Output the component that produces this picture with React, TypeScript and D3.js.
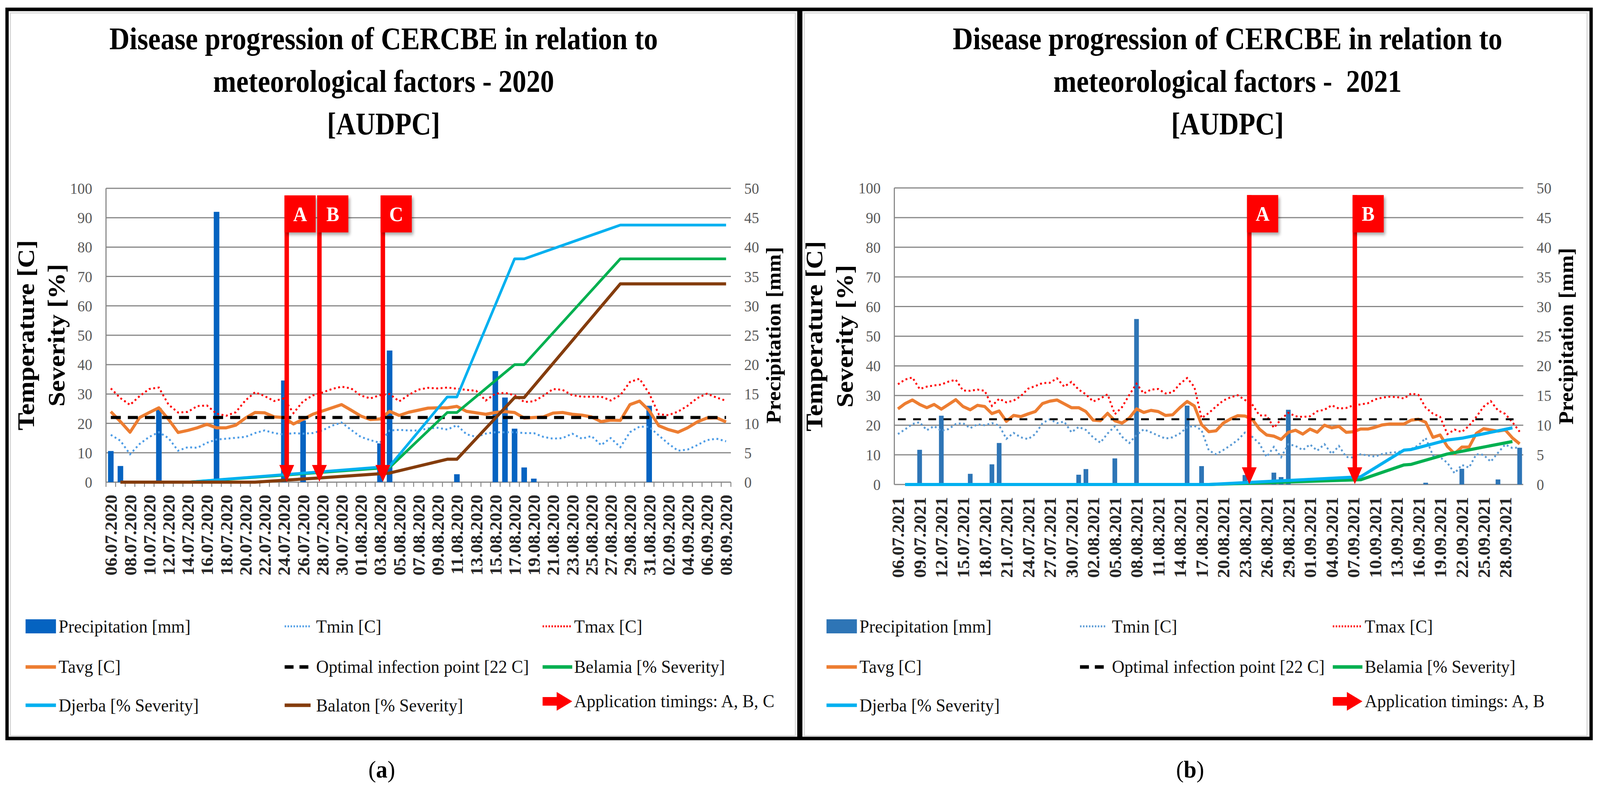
import React from 'react';
import * as d3 from 'd3';

const SERIF = '"Liberation Serif", "Times New Roman", serif';

// ---- 2020 season, daily from 06.07.2020 ----
const tmin2020 = [16.1, 14.1, 9.5, 13.0, 15.4, 17.0, 15.0, 10.7, 11.9, 11.7, 13.4, 14.5, 14.8, 15.1, 15.4, 16.7, 17.6, 16.7, 16.2, 16.7, 16.5, 16.7, 17.6, 19.2, 20.3, 17.8, 15.4, 14.3, 13.4, 17.6, 17.8, 17.6, 17.6, 18.3, 18.5, 17.9, 19.4, 16.3, 15.4, 16.5, 17.0, 17.0, 17.0, 16.7, 16.7, 15.4, 14.8, 15.0, 16.5, 14.8, 15.7, 12.6, 15.0, 11.9, 17.0, 18.9, 18.8, 15.9, 13.1, 10.7, 11.1, 12.6, 14.3, 14.8, 13.9];
const tmax2020 = [31.9, 28.6, 26.3, 29.3, 31.7, 32.2, 26.4, 23.7, 23.9, 25.9, 26.1, 23.3, 22.6, 23.8, 27.8, 30.6, 29.3, 27.6, 28.5, 23.5, 27.5, 29.5, 30.5, 31.7, 32.5, 31.9, 29.5, 28.5, 29.6, 30.0, 27.5, 29.7, 31.5, 32.1, 31.9, 32.2, 31.8, 31.4, 31.1, 27.8, 30.1, 30.4, 29.6, 27.3, 27.5, 29.4, 31.7, 31.4, 29.6, 29.1, 29.1, 29.1, 27.8, 29.6, 34.1, 35.2, 30.2, 23.1, 22.8, 24.0, 26.0, 28.6, 30.1, 28.8, 27.7];
const tavg2020 = [24.0, 20.6, 17.0, 22.0, 23.7, 25.3, 21.4, 16.9, 17.6, 18.5, 19.7, 18.5, 18.5, 19.4, 21.8, 23.7, 23.6, 22.2, 22.0, 19.8, 21.4, 23.1, 24.2, 25.3, 26.4, 24.5, 22.5, 21.3, 21.5, 24.1, 22.7, 23.8, 24.5, 25.2, 25.3, 25.3, 25.8, 24.1, 23.6, 23.1, 23.7, 24.0, 23.7, 21.8, 22.0, 22.2, 23.5, 23.7, 23.1, 22.8, 22.2, 20.6, 21.1, 21.0, 26.4, 27.6, 24.4, 19.2, 17.9, 17.0, 18.5, 20.5, 21.8, 21.9, 20.5];
// rain days only [date, mm]
const precip2020: [string, number][] = [
  ['06.07', 5.3], ['07.07', 2.75], ['11.07', 12.6], ['17.07', 46.0], ['24.07', 17.3], ['26.07', 10.5],
  ['03.08', 6.6], ['04.08', 22.4], ['11.08', 1.35], ['15.08', 18.9], ['16.08', 14.4], ['17.08', 9.1],
  ['18.08', 2.5], ['19.08', 0.6], ['31.08', 13.0],
];
const belamia2020: [string, number][] = [['07.07', 0], ['14.07', 0], ['04.08', 5.0], ['10.08', 23.7], ['11.08', 23.7], ['17.08', 40], ['18.08', 40], ['28.08', 76], ['08.09', 76]];
const djerba2020: [string, number][] = [['07.07', 0], ['14.07', 0], ['04.08', 5.4], ['10.08', 29], ['11.08', 29], ['17.08', 76], ['18.08', 76], ['28.08', 87.5], ['08.09', 87.5]];
const balaton2020: [string, number][] = [['07.07', 0], ['21.07', 0], ['28.07', 1.5], ['04.08', 3.1], ['10.08', 7.8], ['11.08', 7.8], ['17.08', 28.8], ['18.08', 28.8], ['28.08', 67.5], ['08.09', 67.5]];
// application arrows, position in days after 06.07
const arrows2020 = [{ label: 'A', day: 18.3 }, { label: 'B', day: 21.7 }, { label: 'C', day: 28.3 }];

// ---- 2021 season, daily from 06.07.2021 ----
const tmin2021 = [17.0, 18.6, 20.4, 21.0, 18.3, 19.7, 18.1, 18.7, 20.4, 20.7, 19.0, 20.3, 20.0, 20.7, 19.9, 15.4, 17.4, 15.9, 15.3, 17.0, 20.7, 22.0, 20.7, 21.2, 17.6, 19.4, 18.4, 15.9, 14.1, 17.2, 19.6, 16.1, 14.0, 16.7, 18.6, 17.6, 16.5, 15.5, 15.9, 17.2, 19.3, 19.8, 18.3, 11.5, 10.2, 11.6, 13.2, 15.0, 17.5, 16.1, 13.8, 9.3, 12.7, 9.2, 13.6, 13.0, 11.6, 13.5, 11.4, 13.6, 10.3, 13.0, 9.3, 9.1, 10.2, 9.8, 9.4, 10.3, 10.7, 10.9, 11.4, 12.0, 13.2, 15.7, 9.8, 9.2, 7.3, 3.8, 6.6, 5.7, 10.2, 10.0, 7.7, 10.7, 13.5, 12.3, 12.5];
const tmax2021 = [33.8, 35.4, 36.1, 32.2, 33.0, 33.4, 33.7, 34.7, 35.3, 31.7, 31.6, 32.0, 31.6, 26.5, 28.9, 27.7, 28.3, 29.8, 32.3, 33.2, 34.2, 34.3, 35.8, 33.0, 34.6, 32.0, 30.4, 28.0, 29.0, 30.4, 23.7, 26.1, 30.2, 34.0, 30.7, 32.0, 32.2, 30.7, 31.1, 33.9, 35.9, 32.9, 22.4, 24.1, 26.3, 28.3, 29.4, 30.1, 28.5, 27.0, 23.3, 23.3, 19.1, 22.0, 24.2, 23.0, 22.8, 23.0, 24.7, 25.2, 26.7, 25.6, 25.8, 26.7, 27.0, 27.4, 28.7, 29.3, 29.6, 29.5, 29.0, 30.7, 30.2, 25.9, 23.9, 22.8, 17.0, 18.5, 17.7, 19.8, 22.8, 26.2, 28.1, 25.0, 23.8, 21.0, 17.8];
const tavg2021 = [25.5, 27.3, 28.5, 27.0, 25.9, 27.0, 25.4, 27.0, 28.6, 26.3, 25.2, 26.7, 26.3, 23.9, 24.8, 21.3, 23.3, 22.9, 23.8, 24.6, 27.3, 28.1, 28.5, 27.2, 25.9, 25.9, 24.6, 21.7, 21.5, 24.0, 21.5, 20.7, 22.4, 25.5, 24.3, 25.0, 24.6, 23.3, 23.5, 25.9, 28.0, 26.5, 20.2, 17.8, 18.1, 20.7, 22.1, 23.2, 23.1, 22.0, 18.7, 16.7, 16.3, 15.2, 17.6, 18.3, 17.0, 18.7, 17.6, 20.0, 19.1, 19.6, 17.6, 17.8, 18.7, 18.7, 19.3, 20.1, 20.4, 20.4, 20.4, 21.7, 22.0, 21.0, 15.9, 16.7, 12.8, 10.4, 12.6, 12.6, 17.2, 18.8, 18.4, 18.0, 18.4, 15.7, 13.7];
const precip2021: [string, number][] = [
  ['09.07', 5.85], ['12.07', 11.6], ['14.07', 0.2], ['16.07', 1.8], ['19.07', 3.4], ['20.07', 7.0],
  ['26.07', 0.2], ['31.07', 1.65], ['01.08', 2.6], ['05.08', 4.4], ['08.08', 27.9], ['15.08', 13.3],
  ['17.08', 3.1], ['23.08', 1.6], ['27.08', 2.0], ['28.08', 1.25], ['29.08', 12.6], ['17.09', 0.3],
  ['22.09', 2.65], ['27.09', 0.85], ['30.09', 6.2],
];
const belamia2021: [string, number][] = [['07.07', 0], ['18.08', 0], ['08.09', 1.6], ['14.09', 6.6], ['15.09', 6.8], ['20.09', 10.3], ['22.09', 11.2], ['29.09', 14.5]];
const djerba2021: [string, number][] = [['07.07', 0], ['18.08', 0], ['08.09', 2.6], ['14.09', 11.6], ['15.09', 11.8], ['20.09', 15.0], ['22.09', 15.6], ['29.09', 19.1]];
const arrows2021 = [{ label: 'A', day: 48.6 }, { label: 'B', day: 63.2 }];

const OPTIMAL = 22;
const yLeftTicks = d3.range(0, 101, 10);
const yRightTicks = d3.range(0, 51, 5);

type Kind = 'bar' | 'dot' | 'line' | 'dash' | 'arrow';
interface LegendItem { label: string; kind: Kind; color: string; col: number; row: number }

const legend2020: LegendItem[] = [
  { label: 'Precipitation [mm]', kind: 'bar', color: '#0563C1', col: 0, row: 0 },
  { label: 'Tmin [C]', kind: 'dot', color: '#4E9DE6', col: 1, row: 0 },
  { label: 'Tmax [C]', kind: 'dot', color: '#FF0000', col: 2, row: 0 },
  { label: 'Tavg [C]', kind: 'line', color: '#ED7D31', col: 0, row: 1 },
  { label: 'Optimal infection point [22 C]', kind: 'dash', color: '#000', col: 1, row: 1 },
  { label: 'Belamia [% Severity]', kind: 'line', color: '#00B050', col: 2, row: 1 },
  { label: 'Djerba [% Severity]', kind: 'line', color: '#00B0F0', col: 0, row: 2 },
  { label: 'Balaton [% Severity]', kind: 'line', color: '#843C0C', col: 1, row: 2 },
  { label: 'Application timings: A, B, C', kind: 'arrow', color: '#FF0000', col: 2, row: 2 },
];
const legend2021: LegendItem[] = [
  { label: 'Precipitation [mm]', kind: 'bar', color: '#2E75B6', col: 0, row: 0 },
  { label: 'Tmin [C]', kind: 'dot', color: '#5B9BD5', col: 1, row: 0 },
  { label: 'Tmax [C]', kind: 'dot', color: '#FF0000', col: 2, row: 0 },
  { label: 'Tavg [C]', kind: 'line', color: '#ED7D31', col: 0, row: 1 },
  { label: 'Optimal infection point [22 C]', kind: 'dash', color: '#000', col: 1, row: 1 },
  { label: 'Belamia [% Severity]', kind: 'line', color: '#00B050', col: 2, row: 1 },
  { label: 'Djerba [% Severity]', kind: 'line', color: '#00B0F0', col: 0, row: 2 },
  { label: 'Application timings: A, B', kind: 'arrow', color: '#FF0000', col: 2, row: 2 },
];

const parse = d3.timeParse('%d.%m.%Y');
const fmt = d3.timeFormat('%d.%m.%Y');

interface PanelProps {
  year: number;
  nDays: number;
  labelEvery: number;
  tmin: number[];
  tmax: number[];
  tavg: number[];
  precip: [string, number][];
  severity: { color: string; width: number; pts: [string, number][] }[];
  arrows: { label: string; day: number }[];
  geo: { left: number; right: number; top: number; bottom: number };
  barColor: string;
  barPad: number;
  tminColor: string;
  optWidth: number;
  optDash: string;
  xTicks: boolean;
  title: string[];
  titleX: number;
  titleW: number[];
  legend: LegendItem[];
  legendCols: { sx: number; sw: number; tx: number }[];
  caption: string;
  captionX: number;
}

const legendRows = [1603, 1707, 1805];

function Panel(p: PanelProps) {
  const { geo } = p;
  const start = parse(`06.07.${p.year}`)!;
  const days = d3.timeDay.range(start, d3.timeDay.offset(start, p.nDays));
  const idx = (s: string) => d3.timeDay.count(start, parse(`${s}.${p.year}`)!);

  const x = d3.scaleBand<number>().domain(d3.range(p.nDays)).range([geo.left, geo.right])
    .paddingInner(p.barPad).paddingOuter(p.barPad / 2);
  const cx = (i: number) => geo.left + x.step() * (i + 0.5);
  const yL = d3.scaleLinear().domain([0, 100]).range([geo.bottom, geo.top]);
  const yR = d3.scaleLinear().domain([0, 50]).range([geo.bottom, geo.top]);

  const daily = d3.line<number>().x((_, i) => cx(i)).y((v) => yL(v));
  const sev = d3.line<[string, number]>().x((d) => cx(idx(d[0]))).y((d) => yL(d[1]));
  const midY = (geo.top + geo.bottom) / 2;

  return (
    <g>
      {/* titles */}
      {p.title.map((t, i) => (
        <text key={i} x={p.titleX} y={126 + i * 109} textAnchor="middle" fontFamily={SERIF}
          fontWeight="bold" fontSize={80} textLength={p.titleW[i]} lengthAdjust="spacingAndGlyphs"
          style={{ whiteSpace: 'pre' }}>{t}</text>
      ))}

      {/* grid */}
      {yLeftTicks.map((v) => (
        <line key={v} x1={geo.left} x2={geo.right} y1={yL(v)} y2={yL(v)} stroke="#878787" strokeWidth={3} />
      ))}
      <line x1={geo.left} x2={geo.left} y1={geo.top} y2={geo.bottom} stroke="#878787" strokeWidth={3} />
      {p.xTicks && d3.range(p.nDays + 1).map((k) => (
        <line key={k} x1={geo.left + x.step() * k} x2={geo.left + x.step() * k} y1={geo.bottom} y2={geo.bottom + 12}
          stroke="#878787" strokeWidth={2.5} />
      ))}

      {/* tick labels */}
      {yLeftTicks.map((v) => (
        <text key={v} x={geo.left - 37} y={yL(v)} dy="0.35em" textAnchor="end" fontFamily={SERIF}
          fontSize={40} fill="#595959">{v}</text>
      ))}
      {yRightTicks.map((v) => (
        <text key={v} x={geo.right + 36} y={yR(v)} dy="0.35em" textAnchor="start" fontFamily={SERIF}
          fontSize={40} fill="#595959">{v}</text>
      ))}
      {d3.range(0, p.nDays, p.labelEvery).map((i) => (
        <text key={i} transform={`translate(${cx(i)},${geo.bottom + 32}) rotate(-90)`} dy="0.36em"
          textAnchor="end" fontFamily={SERIF} fontWeight="bold" fontSize={46} fill="#262626">
          {fmt(days[i])}
        </text>
      ))}

      {/* axis titles */}
      <text transform={`translate(${geo.left - 194},${midY}) rotate(-90)`} textAnchor="middle" fontFamily={SERIF}
        fontWeight="bold" fontSize={64} textLength={487} lengthAdjust="spacingAndGlyphs">Temperature [C]</text>
      <text transform={`translate(${geo.left - 112},${midY}) rotate(-90)`} textAnchor="middle" fontFamily={SERIF}
        fontWeight="bold" fontSize={64} textLength={365} lengthAdjust="spacingAndGlyphs">Severity [%]</text>
      <text transform={`translate(${geo.right + 134},${midY}) rotate(-90)`} textAnchor="middle" fontFamily={SERIF}
        fontWeight="bold" fontSize={55} textLength={452} lengthAdjust="spacingAndGlyphs">Precipitation [mm]</text>

      {/* precipitation bars (right axis) */}
      {p.precip.map(([d, v]) => (
        <rect key={d} x={x(idx(d))} y={yR(v)} width={x.bandwidth()} height={geo.bottom - yR(v)} fill={p.barColor} />
      ))}

      {/* temperatures */}
      <path d={daily(p.tmin) ?? ''} fill="none" stroke={p.tminColor} strokeWidth={5} strokeDasharray="5 7" />
      <path d={daily(p.tmax) ?? ''} fill="none" stroke="#FF0000" strokeWidth={5} strokeDasharray="5 7" />
      <path d={daily(p.tavg) ?? ''} fill="none" stroke="#ED7D31" strokeWidth={8} strokeLinejoin="round" />
      <line x1={cx(0)} x2={cx(p.nDays - 1)} y1={yL(OPTIMAL)} y2={yL(OPTIMAL)} stroke="#000"
        strokeWidth={p.optWidth} strokeDasharray={p.optDash} />

      {/* severity curves */}
      {p.severity.map((s, i) => (
        <path key={i} d={sev(s.pts) ?? ''} fill="none" stroke={s.color} strokeWidth={s.width} strokeLinejoin="round" />
      ))}

      {/* application arrows */}
      {p.arrows.map((a) => {
        const ax = geo.left + x.step() * (a.day + 0.5);
        const top = yL(97.6);
        const headTop = geo.bottom - 44;
        return (
          <g key={a.label}>
            <rect x={ax - 6} y={top} width={12} height={headTop - top + 2} fill="#FF0000" />
            <polygon points={`${ax - 20},${headTop} ${ax + 20},${headTop} ${ax},${geo.bottom - 1}`} fill="#FF0000" />
            <rect x={ax - 6} y={top} width={84} height={yL(85) - top} fill="#FF0000" filter="url(#shadow)" />
            <text x={ax + 36} y={(top + yL(85)) / 2} dy="0.35em" textAnchor="middle" fontFamily={SERIF}
              fontWeight="bold" fontSize={52} fill="#fff">{a.label}</text>
          </g>
        );
      })}

      {/* legend */}
      {p.legend.map((it) => {
        const c = p.legendCols[it.col];
        const ry = legendRows[it.row] - (it.kind === 'arrow' ? 10 : 0);
        let sw: React.ReactNode = null;
        if (it.kind === 'bar') sw = <rect x={c.sx} y={ry - 18} width={c.sw} height={36} fill={it.color} />;
        if (it.kind === 'line') sw = <line x1={c.sx} x2={c.sx + c.sw} y1={ry} y2={ry} stroke={it.color} strokeWidth={9} />;
        if (it.kind === 'dot') sw = <line x1={c.sx} x2={c.sx + c.sw} y1={ry} y2={ry} stroke={it.color} strokeWidth={5} strokeDasharray="4 4" />;
        if (it.kind === 'dash') sw = <line x1={c.sx} x2={c.sx + c.sw} y1={ry} y2={ry} stroke={it.color} strokeWidth={9} strokeDasharray="24 16" />;
        if (it.kind === 'arrow') sw = (
          <polygon fill={it.color} points={`${c.sx},${ry - 11} ${c.sx + 38},${ry - 11} ${c.sx + 38},${ry - 24} ${c.sx + c.sw},${ry} ${c.sx + 38},${ry + 24} ${c.sx + 38},${ry + 11} ${c.sx},${ry + 11}`} />
        );
        return (
          <g key={it.label}>
            {sw}
            <text x={c.tx} y={ry} dy="0.33em" fontFamily={SERIF} fontSize={47} fill="#111">{it.label}</text>
          </g>
        );
      })}

      {/* caption */}
      <text x={p.captionX} y={1990} textAnchor="middle" fontFamily={SERIF} fontSize={62}>
        (<tspan fontWeight="bold">{p.caption}</tspan>)
      </text>
    </g>
  );
}

export default function App() {
  return (
    <svg viewBox="0 0 4317 2027" preserveAspectRatio="none"
      style={{ position: 'fixed', left: 0, top: 0, width: '100%', height: '100%', display: 'block', background: '#fff' }}>
      <defs>
        <filter id="shadow" x="-20%" y="-20%" width="150%" height="150%">
          <feDropShadow dx="4" dy="6" stdDeviation="4" floodColor="#000" floodOpacity="0.35" />
        </filter>
      </defs>
      <rect width={4317} height={2027} fill="#fff" />
      {/* chart-area borders */}
      <rect x={28} y={33} width={2118} height={1850} fill="none" stroke="#d9d9d9" strokeWidth={3} />
      <rect x={2170} y={33} width={2112} height={1850} fill="none" stroke="#d9d9d9" strokeWidth={3} />

      <Panel
        year={2020} nDays={65} labelEvery={2}
        tmin={tmin2020} tmax={tmax2020} tavg={tavg2020} precip={precip2020}
        severity={[
          { color: '#00B050', width: 7, pts: belamia2020 },
          { color: '#00B0F0', width: 7, pts: djerba2020 },
          { color: '#843C0C', width: 8, pts: balaton2020 },
        ]}
        arrows={arrows2020}
        geo={{ left: 286, right: 1972, top: 482, bottom: 1234 }}
        barColor="#0563C1" barPad={0.42} tminColor="#4E9DE6" optWidth={8} optDash="27 19" xTicks
        title={['Disease progression of CERCBE in relation to', 'meteorological factors - 2020', '[AUDPC]']}
        titleX={1035} titleW={[1480, 920, 305]}
        legend={legend2020}
        legendCols={[{ sx: 69, sw: 82, tx: 158 }, { sx: 768, sw: 70, tx: 853 }, { sx: 1464, sw: 80, tx: 1549 }]}
        caption="a" captionX={1030}
      />
      <Panel
        year={2021} nDays={87} labelEvery={3}
        tmin={tmin2021} tmax={tmax2021} tavg={tavg2021} precip={precip2021}
        severity={[
          { color: '#00B050', width: 8, pts: belamia2021 },
          { color: '#00B0F0', width: 8, pts: djerba2021 },
        ]}
        arrows={arrows2021}
        geo={{ left: 2413, right: 4110, top: 481, bottom: 1240 }}
        barColor="#2E75B6" barPad={0.35} tminColor="#5B9BD5" optWidth={5} optDash="21 20" xTicks={false}
        title={['Disease progression of CERCBE in relation to', 'meteorological factors -  2021', '[AUDPC]']}
        titleX={3312} titleW={[1483, 940, 304]}
        legend={legend2021}
        legendCols={[{ sx: 2230, sw: 82, tx: 2319 }, { sx: 2914, sw: 70, tx: 3000 }, { sx: 3596, sw: 80, tx: 3682 }]}
        caption="b" captionX={3211}
      />

      {/* figure frame */}
      <rect x={19} y={24} width={4274} height={1866} fill="none" stroke="#000" strokeWidth={9} />
      <line x1={2158} x2={2158} y1={24} y2={1890} stroke="#000" strokeWidth={14} />
    </svg>
  );
}
